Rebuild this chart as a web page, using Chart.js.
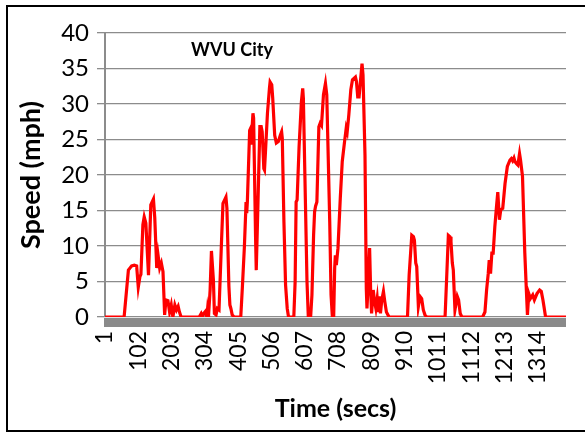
<!DOCTYPE html>
<html>
<head>
<meta charset="utf-8">
<script src="https://cdn.jsdelivr.net/npm/chart.js@4/dist/chart.umd.min.js"></script>
<style>
  html, body { margin: 0; padding: 0; background: #fff; overflow: hidden; }
  #wrap { position: absolute; left: 0; top: 0; width: 585px; height: 434px; }
  #frame { position: absolute; left: 6px; top: 5px; width: 600px; height: 423px; border: 2px solid #000; pointer-events: none; }
</style>
</head>
<body>
<div id="wrap"><canvas id="cycleChart"></canvas></div>
<div id="frame"></div>
<script>
// Time (secs)
const times = [
  1, 59, 72, 82, 90, 97, 102, 107, 110, 116, 120, 125, 133, 140, 148, 152, 158, 162, 167, 172, 177,
  182, 186, 192, 197, 202, 207, 213, 218, 223, 227, 232, 287, 293, 297, 301, 306, 310, 312, 315,
  320, 324, 330, 333, 338, 342, 347, 354, 359, 364, 368, 371, 377, 380, 383, 387, 393, 413, 418,
  424, 428, 429, 431, 433, 440, 443, 445, 447, 450, 452, 458, 460, 463, 471, 475, 478, 483, 485,
  488, 494, 500, 502, 507, 510, 516, 521, 527, 533, 537, 539, 544, 549, 554, 558, 574, 578, 581,
  584, 590, 597, 601, 603, 609, 614, 618, 625, 629, 634, 637, 640, 644, 650, 654, 658, 664, 670,
  674, 683, 687, 691, 695, 698, 700, 703, 708, 715, 721, 728, 733, 736, 741, 747, 752, 761, 764,
  768, 772, 777, 781, 784, 790, 794, 796, 799, 804, 807, 810, 815, 819, 823, 827, 830, 833, 837,
  841, 846, 850, 855, 863, 919, 924, 932, 937, 940, 944, 947, 952, 957, 962, 967, 972, 977, 1033,
  1038, 1043, 1048, 1051, 1055, 1058, 1063, 1070, 1074, 1079, 1084, 1147, 1154, 1159, 1164, 1167,
  1171, 1175, 1179, 1184, 1189, 1193, 1198, 1202, 1208, 1215, 1222, 1230, 1234, 1238, 1242, 1245,
  1250, 1254, 1259, 1262, 1268, 1275, 1280, 1283, 1287, 1292, 1299, 1304, 1312, 1320, 1325, 1330,
  1333, 1338, 1400
];

// Speed (mph) at those times
const speeds = [
  0, 0, 6.6, 7.2, 7.3, 7.2, 4.2, 5.7, 6.0, 13.0, 14.1, 13.2, 5.9, 15.8, 16.6, 14.0, 6.9, 8.7, 6.9, 7.6, 6.4,
  0.3, 2.4, 2.3, 0.7, 1.7, 0.0, 1.7, 1.0, 1.5, 0.7, 0, 0, 0.5, 0.1, 0.5, 0.8, 0, 1.0, 0,
  3.8, 9.3, 5.2, 0.5, 0.3, 1.2, 1.0, 9.9, 16.0, 16.5, 16.9, 15.3, 4.3, 1.7, 1.2, 0.3, 0, 0, 4.3,
  9.9, 14.8, 16.2, 14.6, 16.2, 26.3, 26.6, 24.5, 26.3, 28.7, 28.0, 11.1, 6.6, 12.0, 26.8, 26.8, 26.1, 20.9, 20.7,
  23.3, 28.7, 32.2, 33.1, 32.7, 30.8, 25.6, 24.5, 24.7, 25.6, 26.1, 25.2, 13.4, 4.5, 1.2, 0, 0, 5.0, 16.2,
  16.5, 24.0, 30.3, 32.2, 30.8, 16.7, 5.0, 0, 0, 3.1, 11.5, 14.8, 15.6, 16.2, 26.8, 27.3, 27.0, 31.3, 32.9,
  31.3, 13.4, 3.1, 0, 0, 6.9, 8.7, 7.3, 9.7, 16.7, 21.9, 24.7, 26.6, 26.1, 28.5, 32.0, 33.4, 33.8, 33.2,
  31.0, 31.0, 33.6, 35.7, 34.1, 22.8, 4.0, 1.2, 4.0, 9.7, 4.0, 0.5, 3.8, 2.2, 1.2, 2.6, 0.7, 2.9, 0.5,
  2.4, 3.6, 2.2, 0.7, 0, 0, 5.9, 11.5, 11.3, 10.8, 7.6, 7.1, 1.5, 2.9, 2.6, 1.0, 0.3, 0, 0,
  5.7, 11.5, 11.3, 10.6, 7.6, 6.6, 1.0, 2.9, 2.4, 0.5, 0, 0, 0.7, 3.8, 6.1, 8.0,
  6.1, 9.0, 9.0, 12.7, 15.5, 17.6, 13.7, 15.1, 15.3, 18.8, 21.2, 22.1, 22.3, 22.0, 22.4, 21.9,
  21.6, 21.4, 23.0, 22.1, 19.8, 9.0, 3.5, 0.3, 3.3, 2.6, 3.1, 2.4, 3.3, 3.8, 3.6, 2.4,
  1.5, 0, 0
];

const xTickLabels = [1, 102, 203, 304, 405, 506, 607, 708, 809, 910, 1011, 1112, 1213, 1314];
const yTicks = [0, 5, 10, 15, 20, 25, 30, 35, 40];

const points = times.map((t, i) => ({ x: t, y: speeds[i] }));

// gray floor under the zero line, and the title inside the plot
const floorPlugin = {
    id: 'floorBand',
    beforeDatasetsDraw(chart) {
        const { ctx, chartArea } = chart;
        ctx.save();
        ctx.fillStyle = '#8a8a8a';
        ctx.fillRect(chartArea.left - 1, chartArea.bottom + 1, chartArea.right - chartArea.left + 1, 9);
        ctx.restore();
    },
    afterDraw(chart) {
        const { ctx, chartArea } = chart;
        ctx.save();
        ctx.font = 'bold 18px Lato';
        ctx.fillStyle = '#000';
        ctx.textAlign = 'center';
        ctx.textBaseline = 'middle';
        ctx.fillText('WVU City', chartArea.left + 127, chartArea.top + 17);
        ctx.restore();
    }
};

const ctx = document.getElementById('cycleChart').getContext('2d');
new Chart(ctx, {
    type: 'line',
    data: {
        datasets: [{
            label: 'WVU City',
            data: points,
            borderColor: '#ff0000',
            borderWidth: 3.2,
            pointRadius: 0,
            tension: 0,
            fill: false
        }]
    },
    options: {
        responsive: true,
        maintainAspectRatio: false,
        animation: false,
        layout: { padding: { top: 33, right: 19, left: 0, bottom: 0 } },
        plugins: {
            legend: { display: false },
            tooltip: { enabled: false }
        },
        scales: {
            x: {
                type: 'linear',
                min: 1,
                max: 1400,
                afterBuildTicks: scale => {
                    scale.ticks = xTickLabels.map(v => ({ value: v }));
                },
                afterFit: scale => { scale.height = 117; },
                grid: { display: false, drawTicks: false },
                border: { display: false },
                ticks: {
                    autoSkip: false,
                    minRotation: 90,
                    maxRotation: 90,
                    padding: 14,
                    color: '#000',
                    font: { family: 'Lato', size: 23 },
                    callback: v => String(v)
                },
                title: {
                    display: true,
                    text: 'Time (secs)',
                    color: '#000',
                    font: { family: 'Lato', size: 25, weight: 'bold' },
                    padding: { top: 0, bottom: 10 }
                }
            },
            y: {
                min: 0,
                max: 40,
                afterBuildTicks: scale => {
                    scale.ticks = yTicks.map(v => ({ value: v }));
                },
                afterFit: scale => { scale.width = 105; },
                grid: { color: '#8c8c8c', lineWidth: 1.3, tickLength: 8 },
                border: { display: true, color: '#8c8c8c', width: 2 },
                ticks: {
                    padding: 8,
                    color: '#000',
                    font: { family: 'Lato', size: 24 }
                },
                title: {
                    display: true,
                    text: 'Speed (mph)',
                    color: '#000',
                    font: { family: 'Lato', size: 27, weight: 'bold' },
                    padding: { top: 15, bottom: 0 }
                }
            }
        }
    },
    plugins: [floorPlugin]
});
</script>
</body>
</html>
